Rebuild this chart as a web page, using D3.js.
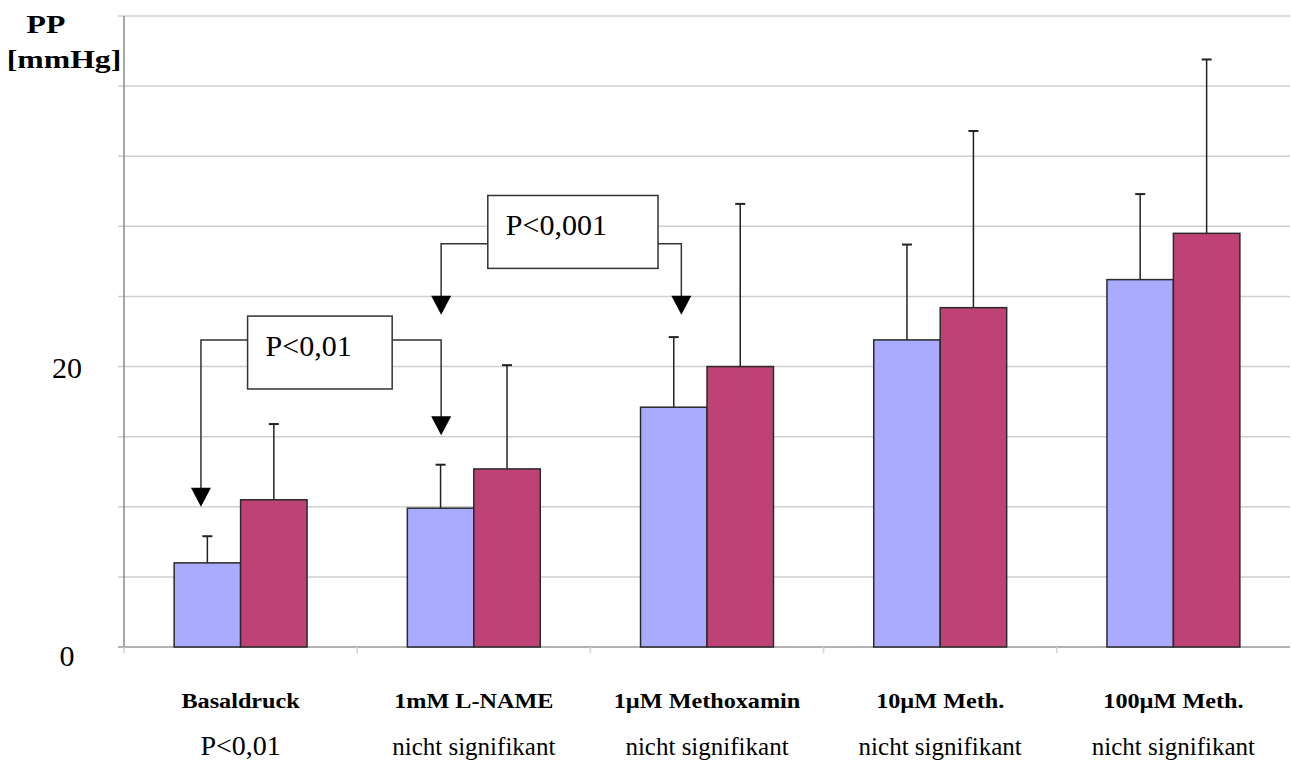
<!DOCTYPE html>
<html>
<head>
<meta charset="utf-8">
<script src="https://cdn.jsdelivr.net/npm/d3@7"></script>
<style>
  html, body { margin: 0; padding: 0; background: #fff; }
  svg { display: block; font-family: "Liberation Serif", "Times New Roman", serif; }
</style>
</head>
<body>
<svg id="chart" width="1291" height="764"></svg>
<script>
// categories and significance notes under each group
var categories = ["Basaldruck", "1mM L-NAME", "1\u00b5M Methoxamin", "10\u00b5M Meth.", "100\u00b5M Meth."];
var significance = ["P<0,01", "nicht signifikant", "nicht signifikant", "nicht signifikant", "nicht signifikant"];

// mean values (mmHg) and upper error (SD)
var blueValues = [6.0, 9.9, 17.1, 21.9, 26.2];
var blueErrors = [1.9, 3.1, 5.0, 6.8, 6.1];
var redValues  = [10.5, 12.7, 20.0, 24.2, 29.5];
var redErrors  = [5.4, 7.4, 11.6, 12.6, 12.4];

var gridValues = [5, 10, 15, 20, 25, 30, 35, 40, 45];
var tickLabels = [0, 20];

// annotation boxes: position in category units (x) and mmHg (y)
var brackets = [
  { label: "P<0,01",  x0: 0.53, x1: 1.15, yTop: 23.6, yBot: 18.4, yLine: 21.9,
    left: { x: 0.33, y: 10.0 }, right: { x: 1.36, y: 15.1 } },
  { label: "P<0,001", x0: 1.56, x1: 2.29, yTop: 32.2, yBot: 27.0, yLine: 28.75,
    left: { x: 1.36, y: 23.7 }, right: { x: 2.39, y: 23.7 } }
];

var svg = d3.select("#chart");
var plotLeft = 124, plotRight = 1290, plotTop = 16, plotBottom = 647;

var y  = d3.scaleLinear().domain([0, 45]).range([plotBottom, plotTop]);
var x0 = d3.scaleBand().domain(categories).range([plotLeft, plotRight]);
var x1 = d3.scaleBand().domain(["blue", "red"])
           .range([x0.bandwidth() * 0.215, x0.bandwidth() * 0.785]);
var xc = d3.scaleLinear().domain([0, categories.length]).range([plotLeft, plotRight]);

var colors = { blue: "#aaaaff", red: "#bf4277" };

// gridlines + small ticks on the left
svg.append("g").selectAll("line")
   .data(gridValues).enter().append("line")
   .attr("x1", plotLeft - 6).attr("x2", plotRight)
   .attr("y1", function(d) { return y(d); })
   .attr("y2", function(d) { return y(d); })
   .attr("stroke", "#cfcfcf").attr("stroke-width", 1.5);

// axis lines
svg.append("line").attr("x1", plotLeft).attr("x2", plotLeft).attr("y1", plotTop).attr("y2", plotBottom)
   .attr("stroke", "#8a8a8a").attr("stroke-width", 1.5);
svg.append("line").attr("x1", plotLeft - 6).attr("x2", plotRight).attr("y1", y(0)).attr("y2", y(0))
   .attr("stroke", "#9a9a9a").attr("stroke-width", 1.5);

// category tick marks under the axis
svg.append("g").selectAll("line")
   .data(categories).enter().append("line")
   .attr("x1", function(d) { return x0(d); })
   .attr("x2", function(d) { return x0(d); })
   .attr("y1", y(0)).attr("y2", y(0) + 6)
   .attr("stroke", "#d4d4d4").attr("stroke-width", 1.5);

// y tick labels (only 0 and 20 are labelled)
svg.append("g").selectAll("text")
   .data(tickLabels).enter().append("text")
   .attr("x", 67)
   .attr("y", function(d) { return d === 0 ? y(d) + 19 : y(d) + 11; })
   .attr("text-anchor", "middle")
   .attr("font-size", 30)
   .text(function(d) { return d; });

// axis title (horizontally stretched like the original)
svg.append("text").attr("transform", "translate(46,33) scale(1.27,1)").attr("text-anchor", "middle")
   .attr("font-size", 25).attr("font-weight", "bold").text("PP");
svg.append("text").attr("transform", "translate(64,68) scale(1.27,1)").attr("text-anchor", "middle")
   .attr("font-size", 25).attr("font-weight", "bold").text("[mmHg]");

// bars
var rows = categories.map(function(c, i) {
  return { cat: c, series: [
    { key: "blue", value: blueValues[i], err: blueErrors[i] },
    { key: "red",  value: redValues[i],  err: redErrors[i] }
  ]};
});

var group = svg.append("g").selectAll("g")
   .data(rows).enter().append("g")
   .attr("transform", function(d) { return "translate(" + x0(d.cat) + ",0)"; });

// error bars first, bars drawn over them
var err = group.selectAll("g.err")
   .data(function(d) { return d.series; }).enter().append("g");
err.append("line")
   .attr("x1", function(d) { return x1(d.key) + x1.bandwidth() / 2; })
   .attr("x2", function(d) { return x1(d.key) + x1.bandwidth() / 2; })
   .attr("y1", function(d) { return y(d.value); })
   .attr("y2", function(d) { return y(d.value + d.err); })
   .attr("stroke", "#222").attr("stroke-width", 1.5);
err.append("line")
   .attr("x1", function(d) { return x1(d.key) + x1.bandwidth() / 2 - 5; })
   .attr("x2", function(d) { return x1(d.key) + x1.bandwidth() / 2 + 5; })
   .attr("y1", function(d) { return y(d.value + d.err); })
   .attr("y2", function(d) { return y(d.value + d.err); })
   .attr("stroke", "#222").attr("stroke-width", 2);

group.selectAll("rect")
   .data(function(d) { return d.series; }).enter().append("rect")
   .attr("x", function(d) { return x1(d.key); })
   .attr("width", x1.bandwidth())
   .attr("y", function(d) { return y(d.value); })
   .attr("height", function(d) { return y(0) - y(d.value); })
   .attr("fill", function(d) { return colors[d.key]; })
   .attr("stroke", "#2a2a2a").attr("stroke-width", 1.5);

// category labels
svg.append("g").selectAll("text")
   .data(categories).enter().append("text")
   .attr("transform", function(d) {
     return "translate(" + (x0(d) + x0.bandwidth() / 2) + ",708) scale(1.1,1)";
   })
   .attr("text-anchor", "middle")
   .attr("font-size", 22).attr("font-weight", "bold")
   .text(function(d) { return d; });

svg.append("g").selectAll("text")
   .data(significance).enter().append("text")
   .attr("x", function(d, i) { return x0(categories[i]) + x0.bandwidth() / 2; })
   .attr("y", 755)
   .attr("text-anchor", "middle")
   .attr("font-size", function(d) { return d.charAt(0) === "P" ? 28 : 25; })
   .text(function(d) { return d; });

// significance brackets with arrows
var ann = svg.append("g").selectAll("g")
   .data(brackets).enter().append("g");

function arrowPath(px, py) {
  return "M" + (px - 10) + "," + (py - 19) + "L" + (px + 10) + "," + (py - 19) + "L" + px + "," + py + "Z";
}

ann.append("path")
   .attr("d", function(d) {
     return "M" + xc(d.x0) + "," + y(d.yLine) + "H" + xc(d.left.x) + "V" + (y(d.left.y) - 18) +
            "M" + xc(d.x1) + "," + y(d.yLine) + "H" + xc(d.right.x) + "V" + (y(d.right.y) - 18);
   })
   .attr("fill", "none").attr("stroke", "#333").attr("stroke-width", 1.5);
ann.append("path").attr("d", function(d) { return arrowPath(xc(d.left.x), y(d.left.y)); }).attr("fill", "#000");
ann.append("path").attr("d", function(d) { return arrowPath(xc(d.right.x), y(d.right.y)); }).attr("fill", "#000");
ann.append("rect")
   .attr("x", function(d) { return xc(d.x0); })
   .attr("y", function(d) { return y(d.yTop); })
   .attr("width", function(d) { return xc(d.x1) - xc(d.x0); })
   .attr("height", function(d) { return y(d.yBot) - y(d.yTop); })
   .attr("fill", "#fff").attr("stroke", "#333").attr("stroke-width", 1.5);
ann.append("text")
   .attr("x", function(d) { return xc(d.x0) + 18; })
   .attr("y", function(d) { return y(d.yTop) + 40; })
   .attr("font-size", 30)
   .text(function(d) { return d.label; });
</script>
</body>
</html>
